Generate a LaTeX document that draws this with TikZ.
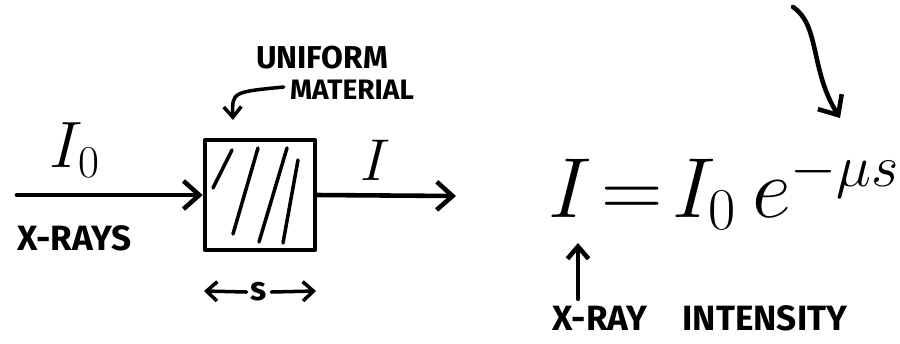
\documentclass[tikz,border=0pt]{standalone}
\usepackage{graphicx}
\usepackage{fontspec}
\setsansfont{Fira Sans}
\usetikzlibrary{arrows.meta,positioning}

\tikzset{
  pen/.style={line width=2.6pt, line cap=round, line join=round},
  barb/.style={-{Straight Barb[length=9pt,width=16pt,line width=2.6pt]}},
  hand/.style={font=\sffamily\bfseries\fontsize{20}{22}\selectfont, inner sep=0pt},
  bigmath/.style={font=\fontsize{24}{26}\selectfont, inner sep=0pt}
}

\begin{document}
\begin{tikzpicture}[x=0.02cm, y=-0.02cm]
    \useasboundingbox (0,0) rectangle (900,343);

    % Constants
    \def\slabw{2.2cm} % side of the slab

    % The slab of material
    \node[draw, pen, minimum width=\slabw, minimum height=\slabw, inner sep=0pt] (slab) at (260,195) {};
    \begin{scope}[pen, line width=2pt]
        \draw (232,150) -- (213,188);
        \draw (258,148) -- (233,234);
        \draw (287,148) -- (259,242);
        \draw (298,160) -- (283,243);
    \end{scope}

    % Incoming and outgoing rays
    \coordinate (src) at (17,195);
    \coordinate (out) at (456,196);
    \draw[pen, barb] (src) -- (slab.west);
    \draw[pen, barb] (slab.east) -- (out);

    % Labels round the slab
    \node[bigmath] (Iin) at (75,150) {\scalebox{1.5}{$I_0$}};
    \node[bigmath] (Iout) at (376,160) {\scalebox{1.35}{$I$}};
    \node[hand, anchor=west] (xrays) at (17,238) {X-RAYS};
    \node[hand, font=\sffamily\bfseries\fontsize{18}{20}\selectfont] (unif) at (322,58) {UNIFORM};
    \node[hand, font=\sffamily\bfseries\fontsize{16}{18}\selectfont] (mat) at (352,90) {MATERIAL};
    \draw[pen, line width=2pt, -{Straight Barb[length=6pt,width=10pt]}] (mat.west) ++(-6,-3) coordinate (m0)
        .. controls (232,92) .. (233,120);

    % Thickness s
    \node[hand, font=\sffamily\bfseries\fontsize{19}{21}\selectfont] (s) at (259,292) {s};
    \draw[pen, line width=2pt, -{Straight Barb[length=6pt,width=11pt]}] (s.west) ++(-4,0) -- (204,291);
    \draw[pen, line width=2pt, -{Straight Barb[length=6pt,width=11pt]}] (s.east) ++(4,0) -- (316,291);

    % The law
    \node[bigmath, anchor=base west] (law) at (548,217) {\scalebox{1.95}{$I\!=\!I_0\,e^{-\mu s}$}};
    \coordinate (lawI) at (578,243);
    \coordinate (top) at (793,7);
    \draw[pen, barb] (top) .. controls (820,25) and (810,70) .. (840,118);

    % Meaning of I
    \node[hand] (inten) at (700,318) {X-RAY\quad INTENSITY};
    \draw[pen, -{Straight Barb[length=7pt,width=12pt,line width=2.6pt]}] (inten.north -| lawI) ++(0,-6) -- (lawI);
\end{tikzpicture}
\end{document}
